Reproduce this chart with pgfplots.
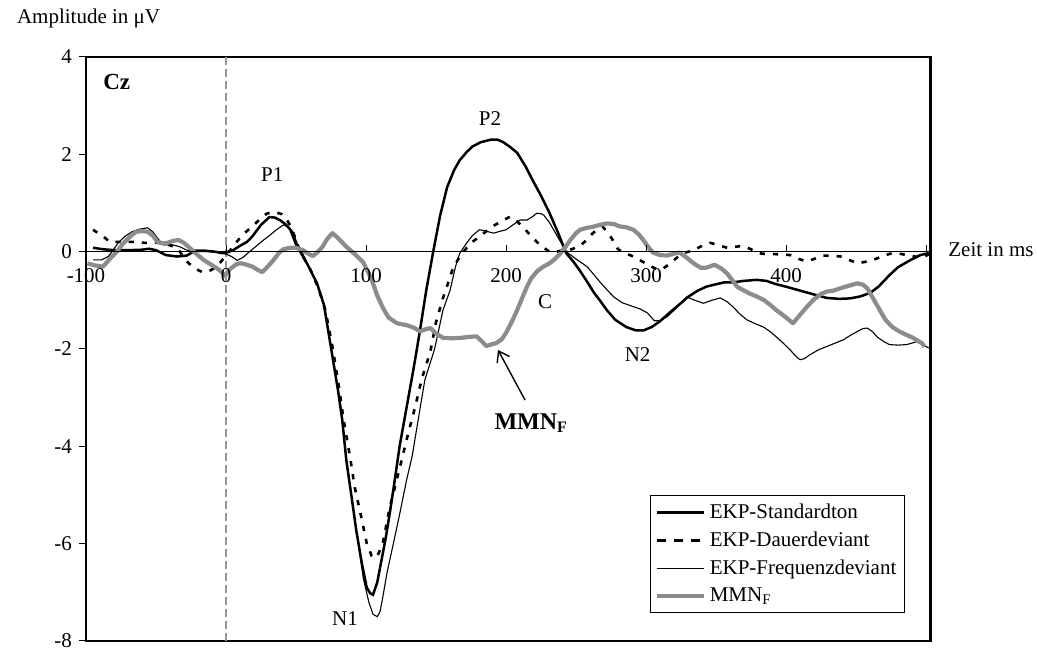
\documentclass[border=0pt]{standalone}
\usepackage{pgfplots}
\pgfplotsset{compat=1.18}
\usetikzlibrary{arrows.meta}
\usepackage{fontspec}
\setmainfont{Liberation Serif}
\definecolor{mmngray}{RGB}{140,140,140}
\definecolor{zerogray}{RGB}{150,150,150}
\begin{document}
\begin{tikzpicture}[font=\fontsize{10.5}{12.6}\selectfont]
\path[use as bounding box] (-43pt,-5pt) rectangle (475.5pt,320.5pt);
\begin{axis}[
  scale only axis, width=422.1pt, height=292pt,
  at={(0pt,0pt)}, anchor=south west,
  xmin=-100, xmax=503, ymin=-8, ymax=4,
  xtick=\empty,
  ytick={-8,-6,-4,-2,0,2,4},
  yticklabels={-8,-6,-4,-2,0,2,4},
  ytick pos=left, tick align=outside,
  major tick length=3.5pt,
  tick style={black, line width=0.5pt},
  axis line style={line width=1.4pt},
  /pgf/number format/assume math mode=true,
  legend style={at={(0.970,0.048)}, anchor=south east, draw=black, line width=0.5pt,
    font=\fontsize{10.5}{12.6}\selectfont, row sep=1.2pt, inner sep=2pt,
    cells={anchor=west}},
  legend image code/.code={\draw[#1] (0pt,0pt) -- (23.5pt,0pt);},
]
\draw[zerogray, line width=1pt, dash pattern=on 4pt off 2pt] (axis cs:0,-8) -- (axis cs:0,4);

% EKP-Standardton
\addplot[black, line width=1.25pt] coordinates {
(-95,0.08) (-88,0.05) (-80,0.03) (-70,0.03) (-60,0.04) (-55,0.06) (-50,0.03) (-43,-0.07) (-35,-0.1) (-28,-0.08) (-22,0.02) (-15,0.02) (-8,0.0) (-3,-0.03) (0,-0.02) (5,0.03) (10,0.12) (15,0.2) (19,0.32) (25,0.55) (31,0.71) (35,0.7) (39,0.64) (43,0.55) (46,0.45) (50,0.15) (54,-0.05) (58,-0.25) (65,-0.65) (70,-1.1) (74,-1.8) (78,-2.5) (80,-2.85) (83,-3.45) (86,-4.3) (90,-5.1) (93,-5.72) (97,-6.4) (100.5,-6.9) (103,-7.02) (105,-7.05) (108,-6.8) (110,-6.5) (114,-5.9) (117,-5.37) (120,-4.8) (124,-4.0) (129,-3.2) (134,-2.4) (138.6,-1.61) (143,-0.8) (148,0.0) (153,0.75) (158,1.33) (163,1.68) (167,1.88) (172,2.05) (176,2.16) (182,2.25) (189,2.3) (194,2.3) (198,2.25) (203,2.15) (208,2.03) (214,1.75) (219,1.47) (225,1.15) (231,0.8) (237,0.4) (243,-0.03) (248,-0.2) (253,-0.4) (258,-0.62) (263,-0.85) (267,-1.0) (272,-1.2) (278,-1.4) (286,-1.55) (293,-1.62) (298,-1.62) (304,-1.55) (310,-1.43) (317,-1.25) (324,-1.08) (330,-0.93) (337,-0.8) (343,-0.72) (350,-0.67) (356,-0.63) (362,-0.63) (370,-0.6) (379,-0.58) (386,-0.6) (392,-0.66) (400,-0.72) (410,-0.8) (420,-0.88) (429,-0.95) (438,-0.97) (446,-0.96) (453,-0.92) (460,-0.85) (466,-0.72) (474,-0.48) (480,-0.32) (489,-0.17) (496,-0.07) (502,-0.03)
};
\addlegendentry{EKP-Standardton}

% EKP-Dauerdeviant
\addplot[black, line width=1.3pt, dash pattern=on 2.6pt off 4pt,
  legend image code/.code={\draw[black, line width=1.3pt, dash pattern=on 4.5pt off 4pt] (0pt,0pt) -- (23.5pt,0pt);}] coordinates {
(-95,0.45) (-88,0.32) (-83,0.2) (-77,0.2) (-71,0.2) (-64,0.2) (-58,0.18) (-52,0.18) (-46,0.18) (-40,0.13) (-35,0.08) (-31,-0.08) (-27,-0.23) (-22,-0.35) (-17,-0.42) (-12,-0.4) (-6.6,-0.31) (-2,-0.15) (3,0.03) (7,0.18) (10,0.28) (14,0.4) (18.5,0.51) (24,0.66) (29,0.78) (34,0.82) (40,0.77) (44,0.63) (47,0.48) (51,0.15) (55,-0.1) (60,-0.35) (66,-0.75) (71,-1.2) (76,-1.95) (80,-2.65) (84,-3.45) (88.6,-4.22) (92,-4.85) (96,-5.37) (100.5,-5.99) (104,-6.25) (106,-6.3) (109,-6.2) (112,-5.99) (117,-5.25) (121,-4.8) (125.5,-4.28) (130,-3.75) (135,-3.2) (140,-2.6) (146,-2.05) (150,-1.45) (155,-0.95) (158,-0.7) (162,-0.35) (167,-0.1) (172,0.08) (176,0.2) (181,0.31) (186,0.42) (191,0.53) (197,0.63) (203,0.72) (208,0.62) (212,0.51) (217,0.35) (222,0.2) (227,0.08) (231,0.0) (236,0.0) (241,0.03) (247,0.05) (253,0.12) (258,0.25) (262,0.38) (266,0.47) (269,0.51) (272,0.42) (276,0.25) (280,0.05) (285,-0.03) (291,-0.1) (296,-0.18) (302,-0.28) (307,-0.35) (311,-0.37) (317,-0.25) (323,-0.1) (328,-0.02) (334,0.03) (340,0.12) (346,0.18) (352,0.13) (358,0.08) (364,0.1) (369,0.12) (375,0.05) (380,-0.03) (386,-0.05) (392,-0.05) (398,-0.06) (403,-0.07) (409,-0.15) (415,-0.2) (420,-0.15) (426,-0.08) (432,-0.08) (439,-0.1) (445,-0.17) (451,-0.24) (458,-0.2) (464,-0.15) (470,-0.08) (476,-0.03) (481,-0.04) (486,-0.07) (492,-0.1) (498,-0.12) (502,-0.05)
};
\addlegendentry{EKP-Dauerdeviant}

% EKP-Frequenzdeviant
\addplot[black, line width=0.55pt] coordinates {
(-95,-0.17) (-89,-0.17) (-84,-0.1) (-77,0.18) (-72,0.32) (-67,0.41) (-62,0.46) (-56,0.49) (-52,0.4) (-49,0.28) (-45,0.14) (-38,0.14) (-33,0.1) (-28,0.03) (-19,0.0) (-12,0.0) (-5,-0.02) (0,-0.05) (4,-0.1) (8,-0.18) (12,-0.12) (16,-0.02) (21,0.1) (26,0.22) (31,0.33) (36,0.45) (41,0.55) (45,0.5) (48,0.4) (51,0.15) (55,-0.05) (58,-0.25) (65,-0.65) (70,-1.1) (74,-1.8) (78,-2.5) (82,-3.2) (86,-4.3) (90,-5.1) (94,-5.9) (98,-6.7) (102,-7.2) (105,-7.45) (108,-7.5) (110,-7.4) (112,-7.1) (115,-6.6) (119,-6.07) (124,-5.4) (129,-4.69) (133,-4.2) (137,-3.5) (142,-2.64) (149,-2.0) (155,-1.2) (160,-0.8) (164,-0.3) (167,-0.03) (172,0.18) (176,0.33) (181,0.45) (186,0.42) (191,0.38) (196,0.42) (200,0.45) (205,0.55) (210,0.65) (215,0.65) (219,0.72) (222,0.79) (225,0.78) (227,0.75) (231,0.6) (234,0.45) (238,0.25) (241,0.1) (243,0.0) (250,-0.15) (258,-0.31) (263,-0.48) (267,-0.62) (272,-0.78) (277,-0.93) (283,-1.05) (290,-1.12) (296,-1.18) (301,-1.26) (306,-1.42) (310,-1.42) (315,-1.34) (322,-1.15) (329,-0.93) (335,-1.0) (341,-1.06) (347,-1.0) (353,-0.95) (358,-1.03) (362,-1.13) (367,-1.28) (372,-1.4) (378,-1.48) (384,-1.55) (389,-1.65) (393,-1.75) (398,-1.88) (403,-2.02) (407,-2.15) (410,-2.22) (413,-2.2) (417,-2.12) (423,-2.02) (429,-1.95) (435,-1.88) (441,-1.81) (446,-1.72) (451,-1.64) (455,-1.58) (458,-1.57) (462,-1.65) (465,-1.75) (470,-1.85) (474,-1.91) (480,-1.92) (486,-1.91) (490,-1.88) (493,-1.85) (497,-1.9) (502,-1.98)
};
\addlegendentry{EKP-Frequenzdeviant}

% MMN_F
\addplot[mmngray, line width=2.1pt, line join=round] coordinates {
(-99,-0.24) (-94,-0.28) (-88,-0.31) (-83,-0.15) (-78,0.0) (-74,0.15) (-71,0.24) (-67,0.35) (-64,0.41) (-60,0.42) (-56,0.41) (-52,0.32) (-49,0.2) (-45,0.17) (-42,0.18) (-38,0.22) (-34,0.24) (-30,0.18) (-26,0.08) (-21,-0.05) (-16,-0.17) (-11,-0.26) (-6.6,-0.34) (-3,-0.42) (-0.7,-0.5) (2,-0.38) (5,-0.31) (8,-0.25) (11,-0.24) (15,-0.27) (19,-0.31) (23,-0.38) (26,-0.42) (30,-0.3) (34,-0.17) (38,-0.02) (41,0.05) (46,0.08) (50,0.08) (55,0.03) (58,-0.03) (62,-0.09) (65,-0.02) (69,0.1) (72,0.25) (76,0.38) (80,0.28) (86,0.1) (92,-0.05) (98,-0.22) (102,-0.45) (105,-0.65) (108,-0.9) (112,-1.15) (116,-1.35) (122,-1.47) (129,-1.51) (134,-1.56) (138.6,-1.64) (142,-1.6) (146,-1.57) (150,-1.68) (155,-1.77) (162,-1.78) (168,-1.77) (174,-1.75) (179,-1.74) (183,-1.85) (186,-1.94) (190,-1.9) (193,-1.88) (197,-1.8) (200,-1.67) (204,-1.45) (208,-1.2) (212,-0.92) (215,-0.72) (218,-0.55) (222,-0.41) (226,-0.32) (231,-0.24) (235,-0.15) (239,-0.03) (243,0.12) (246,0.24) (250,0.38) (253,0.45) (258,0.49) (262,0.51) (267,0.55) (272,0.58) (277,0.57) (281,0.52) (286,0.5) (291,0.45) (295,0.35) (298,0.24) (302,0.08) (305,-0.02) (310,-0.07) (315,-0.08) (320,-0.04) (324,-0.02) (328,-0.1) (331,-0.17) (334,-0.24) (339,-0.33) (343,-0.33) (349,-0.27) (354,-0.35) (358,-0.45) (362,-0.6) (365,-0.72) (370,-0.8) (374,-0.86) (379,-0.92) (384,-0.99) (389,-1.1) (393,-1.2) (399,-1.33) (405,-1.47) (410,-1.3) (415,-1.13) (420,-0.98) (425,-0.87) (429,-0.82) (434,-0.8) (439,-0.75) (445,-0.7) (451,-0.65) (455,-0.68) (458,-0.75) (462,-0.95) (467,-1.2) (471,-1.4) (476,-1.55) (481,-1.64) (486,-1.71) (490,-1.76) (493,-1.81) (497,-1.88) (499,-1.95)
};
\addlegendentry{MMN\textsubscript{F}}

\node[font=\fontsize{11.5}{13}\selectfont\bfseries] at (axis cs:-78,3.49) {Cz};
\node at (axis cs:33,1.58) {P1};
\node at (axis cs:188.6,2.74) {P2};
\node at (axis cs:85,-7.53) {N1};
\node at (axis cs:228,-1.03) {C};
\node at (axis cs:294,-2.12) {N2};
\node[font=\fontsize{12}{14}\selectfont\bfseries] at (axis cs:218,-3.52) {MMN\textsubscript{F}};
\draw[-{Straight Barb[length=5pt,width=7pt]}, line width=0.7pt] (axis cs:213.6,-3.05) -- (axis cs:194.3,-2.02);
\end{axis}

\begin{axis}[
  scale only axis, width=422.1pt, height=292pt,
  at={(0pt,0pt)}, anchor=south west,
  xmin=-100, xmax=503, ymin=-8, ymax=4,
  axis x line*=middle, axis y line=none,
  xtick={-100,0,100,200,300,400,500},
  xticklabels={-100,0,100,200,300,400,},
  tick align=inside, major tick length=3.5pt,
  tick style={black, line width=0.5pt},
  axis line style={black, line width=0.5pt},
  xticklabel style={yshift=-5pt},
  /pgf/number format/assume math mode=true,
]
\end{axis}

\node[anchor=base west] at (-38pt,308.5pt) {Amplitude in μV};
\node[anchor=base west, inner sep=0pt] at (431pt,192pt) {Zeit in ms};
\end{tikzpicture}
\end{document}
